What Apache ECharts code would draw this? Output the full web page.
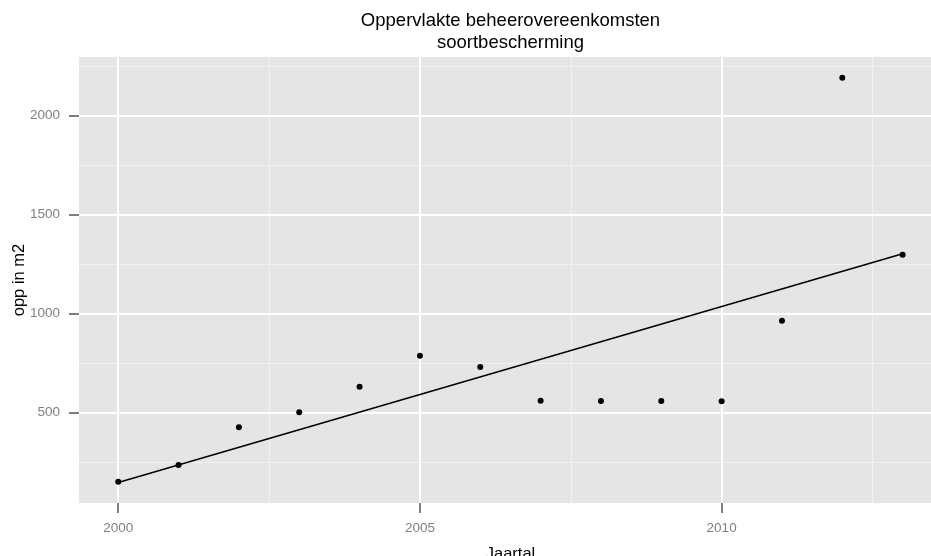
<!DOCTYPE html>
<html>
<head>
<meta charset="utf-8">
<script src="https://cdn.jsdelivr.net/npm/echarts@6/dist/echarts.min.js"></script>
<style>
html,body{margin:0;padding:0;background:#fff;}
#chart{width:931px;height:556px;}
</style>
</head>
<body>
<div id="chart"></div>
<script>
// ---- data ----
var years = [2000, 2001, 2002, 2003, 2004, 2005, 2006, 2007, 2008, 2009, 2010, 2011, 2012, 2013];
var oppervlakte = [149, 234, 424, 500, 629, 786, 729, 559, 557, 557, 556, 963, 2192, 1297];
var xTicks = [2000, 2005, 2010];
var yTicks = [500, 1000, 1500, 2000];
var titleLines = ['Oppervlakte beheerovereenkomsten', 'soortbescherming'];
var xTitle = 'Jaartal';
var yTitle = 'opp in m2';

// linear model fit (like geom_smooth(method = "lm", se = FALSE))
function linFit(xs, ys) {
  var n = xs.length, mx = 0, my = 0;
  for (var i = 0; i < n; i++) { mx += xs[i]; my += ys[i]; }
  mx /= n; my /= n;
  var sxx = 0, sxy = 0;
  for (var j = 0; j < n; j++) { sxx += (xs[j]-mx)*(xs[j]-mx); sxy += (xs[j]-mx)*(ys[j]-my); }
  var b = sxy / sxx, a = my - b*mx;
  return function (x) { return a + b*x; };
}
var fit = linFit(years, oppervlakte);
var x0 = years[0], x1 = years[years.length-1];
var fitLine = [[x0, fit(x0)], [x1, fit(x1)]];
var points = years.map(function (y, i) { return [y, oppervlakte[i]]; });

var X_MIN = 1999.35, X_MAX = 2013.47;
var Y_MIN = 41.5, Y_MAX = 2297;
var FONT = 'Liberation Sans, Arial, Helvetica, sans-serif';
var TICK_COLOR = '#7f7f7f';

var majorLines = xTicks.map(function (v) { return {xAxis: v}; })
  .concat(yTicks.map(function (v) { return {yAxis: v}; }));

var chart = echarts.init(document.getElementById('chart'), null, {renderer: 'canvas'});
var option = {
  animation: false,
  backgroundColor: '#ffffff',
  grid: {left: 79, top: 57, right: 0, bottom: 53, backgroundColor: '#e5e5e5', show: true, borderWidth: 0},
  xAxis: [
    {
      type: 'value', min: X_MIN, max: X_MAX, minInterval: 2.5, maxInterval: 2.5,
      axisLine: {show: false}, axisTick: {show: false}, axisLabel: {show: false},
      splitLine: {show: true, showMinLine: false, showMaxLine: false, lineStyle: {color: '#f2f2f2', width: 1}}
    },
    {
      type: 'value', min: X_MIN, max: X_MAX, position: 'bottom',
      axisLine: {show: false},
      axisTick: {show: true, length: 10, lineStyle: {color: TICK_COLOR, width: 2}, customValues: xTicks},
      axisLabel: {show: true, margin: 18, color: TICK_COLOR, fontSize: 13.5, fontFamily: FONT, customValues: xTicks,
                  formatter: function (v) { return String(v); }},
      splitLine: {show: false}
    }
  ],
  yAxis: [
    {
      type: 'value', min: Y_MIN, max: Y_MAX, minInterval: 250, maxInterval: 250,
      axisLine: {show: false}, axisTick: {show: false}, axisLabel: {show: false},
      splitLine: {show: true, showMinLine: false, showMaxLine: false, lineStyle: {color: '#f2f2f2', width: 1}}
    },
    {
      type: 'value', min: Y_MIN, max: Y_MAX, position: 'left',
      axisLine: {show: false},
      axisTick: {show: true, length: 10, lineStyle: {color: TICK_COLOR, width: 2}, customValues: yTicks},
      axisLabel: {show: true, margin: 19, color: TICK_COLOR, fontSize: 13.5, fontFamily: FONT, customValues: yTicks,
                  formatter: function (v) { return String(v); }},
      splitLine: {show: false}
    }
  ],
  series: [
    {
      type: 'line', xAxisIndex: 1, yAxisIndex: 1, data: [], z: 1, silent: true,
      markLine: {
        z: 1, silent: true, animation: false, symbol: ['none', 'none'], label: {show: false},
        lineStyle: {color: '#ffffff', width: 2, type: 'solid'},
        emphasis: {disabled: true},
        data: majorLines
      }
    },
    {
      type: 'line', xAxisIndex: 1, yAxisIndex: 1, data: fitLine, showSymbol: false, symbol: 'none',
      lineStyle: {color: '#000000', width: 1.5}, silent: true, z: 6
    },
    {
      type: 'scatter', xAxisIndex: 1, yAxisIndex: 1, data: points, symbol: 'circle', symbolSize: 6,
      itemStyle: {color: '#000000', opacity: 1}, silent: true, z: 7
    }
  ],
  graphic: [
    {type: 'text', x: 510.5, y: 20.5, style: {text: titleLines[0], fill: '#000', font: '18.5px ' + FONT, textAlign: 'center', textVerticalAlign: 'middle'}},
    {type: 'text', x: 510.5, y: 43, style: {text: titleLines[1], fill: '#000', font: '18.5px ' + FONT, textAlign: 'center', textVerticalAlign: 'middle'}},
    {type: 'text', x: 510.5, y: 554, style: {text: xTitle, fill: '#000', font: '16.5px ' + FONT, textAlign: 'center', textVerticalAlign: 'middle'}},
    {type: 'text', x: 19.5, y: 280, rotation: Math.PI/2, style: {text: yTitle, fill: '#000', font: '16.5px ' + FONT, textAlign: 'center', textVerticalAlign: 'middle'}}
  ]
};
chart.setOption(option);
</script>
</body>
</html>
